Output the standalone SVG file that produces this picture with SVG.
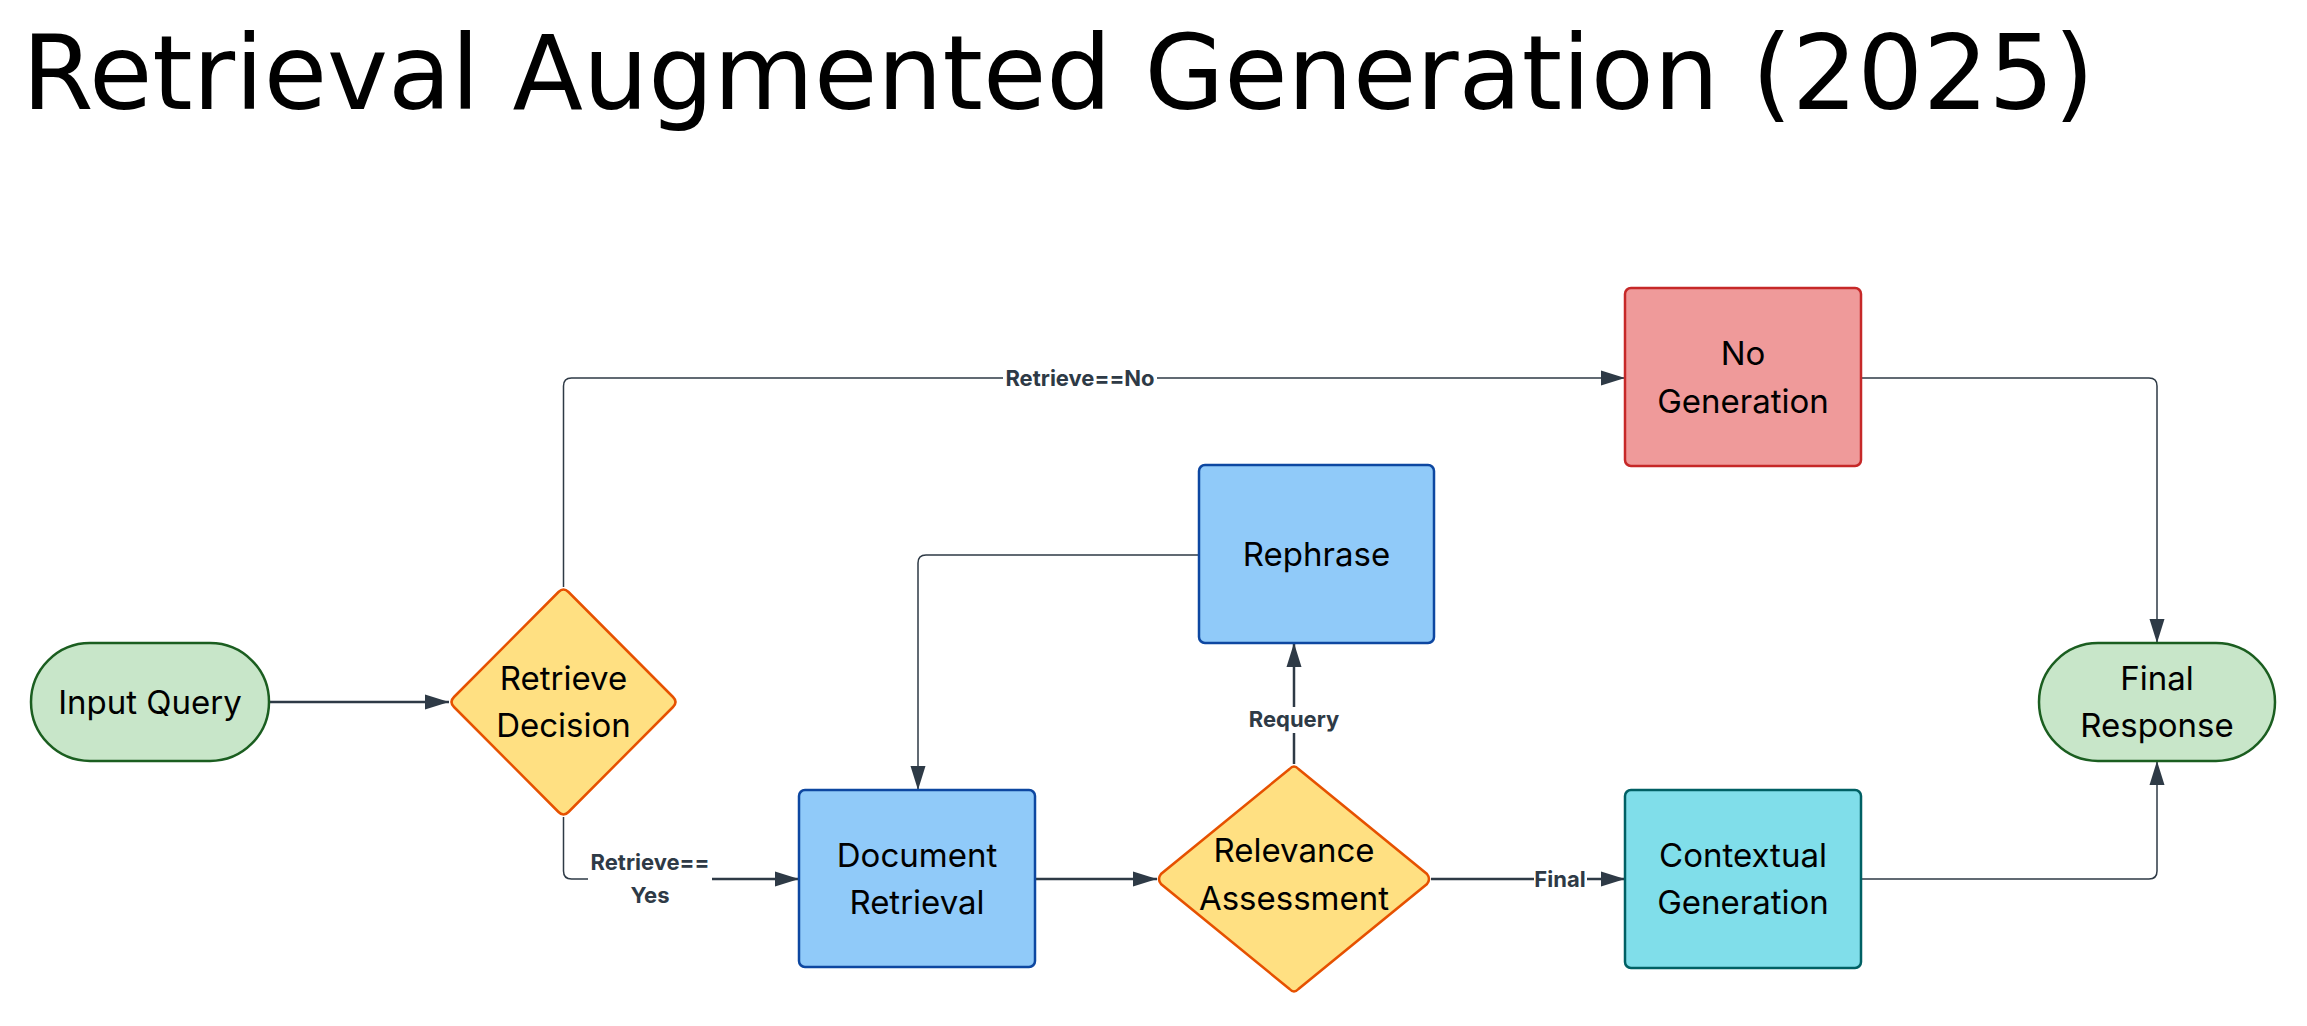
<svg xmlns="http://www.w3.org/2000/svg" width="2307" height="1026" viewBox="0 0 2307 1026">
<style>
.title{font-family:"DejaVu Sans",sans-serif;font-size:103px;fill:#000}
.nt{font-family:Inter,"Liberation Sans",sans-serif;font-size:33px;fill:#000;text-anchor:middle}
.el{font-family:Inter,"Liberation Sans",sans-serif;font-size:22px;font-weight:700;fill:#2e3a46;text-anchor:middle}
.green{fill:#c8e6c9;stroke:#1b5e20;stroke-width:2.5}
.yellow{fill:#ffe082;stroke:#e65100;stroke-width:2.5}
.blue{fill:#90caf9;stroke:#0d47a1;stroke-width:2.5}
.red{fill:#ef9a9a;stroke:#c62828;stroke-width:2.5}
.cyan{fill:#80deea;stroke:#006064;stroke-width:2.5}
.c{fill:none;stroke:#2e3a46}
.thin{stroke-width:1.5}
.thick{stroke-width:2.5}
.lb{fill:#fff}
</style>
<defs>
<marker id="ah" markerUnits="userSpaceOnUse" markerWidth="24" markerHeight="16" refX="24" refY="8" orient="auto">
<path d="M0,0.5 L24,8 L0,15.5 z" fill="#2e3a46"/>
</marker>
</defs>
<rect width="2307" height="1026" fill="#fff"/>
<text class="title" x="22" y="109">Retrieval Augmented Generation (2025)</text>

<g id="connectors">
<path class="c thick" d="M269,702 L449,702" marker-end="url(#ah)"/>
<path class="c thin" d="M563.5,587 L563.5,386 Q563.5,378 571.5,378 L1625,378" marker-end="url(#ah)"/>
<rect class="lb" x="1003" y="366" width="154" height="24"/>
<text class="el" x="1080" y="386">Retrieve==No</text>
<path class="c thin" d="M563.5,817 L563.5,871 Q563.5,879 571.5,879 L712,879"/>
<path class="c thick" d="M712,879 L799,879" marker-end="url(#ah)"/>
<rect class="lb" x="588" y="850" width="124" height="60"/>
<text class="el" x="650" y="870">Retrieve==</text>
<text class="el" x="650" y="903">Yes</text>
<path class="c thick" d="M1035,879 L1157,879" marker-end="url(#ah)"/>
<path class="c thick" d="M1294,764 L1294,643" marker-end="url(#ah)"/>
<rect class="lb" x="1246" y="707" width="96" height="26"/>
<text class="el" x="1294" y="727">Requery</text>
<path class="c thin" d="M1199,555 L926,555 Q918,555 918,563 L918,790" marker-end="url(#ah)"/>
<path class="c thick" d="M1431,879 L1625,879" marker-end="url(#ah)"/>
<rect class="lb" x="1534" y="866" width="53" height="26"/>
<text class="el" x="1560" y="887">Final</text>
<path class="c thin" d="M1861,378 L2149,378 Q2157,378 2157,386 L2157,643" marker-end="url(#ah)"/>
<path class="c thin" d="M1861,879 L2149,879 Q2157,879 2157,871 L2157,761" marker-end="url(#ah)"/>
</g>

<g id="input-query">
<rect class="green" x="31" y="643" width="238" height="118" rx="59"/>
<text class="nt" x="150" y="714">Input Query</text>
</g>
<g id="retrieve-decision">
<path class="yellow" d="M558.5,592 Q563.5,587 568.5,592 L673,697 Q678,702 673,707 L568.5,812 Q563.5,817 558.5,812 L454,707 Q449,702 454,697 Z"/>
<text class="nt" x="563.5" y="690">Retrieve</text>
<text class="nt" x="563.5" y="737">Decision</text>
</g>
<g id="document-retrieval">
<rect class="blue" x="799" y="790" width="236" height="177" rx="6"/>
<text class="nt" x="917" y="867">Document</text>
<text class="nt" x="917" y="914">Retrieval</text>
</g>
<g id="relevance-assessment">
<path class="yellow" d="M1289.5,769 Q1294,764 1298.5,769 L1427,874 Q1431,879 1427,884 L1298.5,989 Q1294,994 1289.5,989 L1161,884 Q1157,879 1161,874 Z"/>
<text class="nt" x="1294" y="862">Relevance</text>
<text class="nt" x="1294" y="910">Assessment</text>
</g>
<g id="rephrase">
<rect class="blue" x="1199" y="465" width="235" height="178" rx="6"/>
<text class="nt" x="1316.5" y="566">Rephrase</text>
</g>
<g id="no-generation">
<rect class="red" x="1625" y="288" width="236" height="178" rx="6"/>
<text class="nt" x="1743" y="365">No</text>
<text class="nt" x="1743" y="413">Generation</text>
</g>
<g id="contextual-generation">
<rect class="cyan" x="1625" y="790" width="236" height="178" rx="6"/>
<text class="nt" x="1743" y="867">Contextual</text>
<text class="nt" x="1743" y="914">Generation</text>
</g>
<g id="final-response">
<rect class="green" x="2039" y="643" width="236" height="118" rx="59"/>
<text class="nt" x="2157" y="690">Final</text>
<text class="nt" x="2157" y="737">Response</text>
</g>
</svg>
